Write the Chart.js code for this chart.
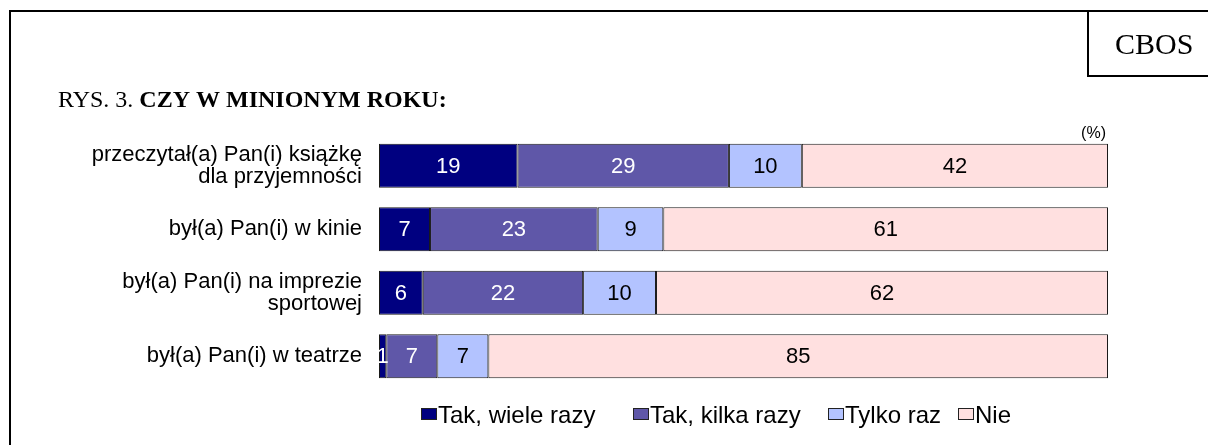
<!DOCTYPE html>
<html><head><meta charset="utf-8">
<script src="https://cdn.jsdelivr.net/npm/chart.js@4.4.1/dist/chart.umd.min.js"></script>
<style>
html,body{margin:0;padding:0;background:#fff;}
canvas{display:block;}
</style></head>
<body>
<canvas id="c" width="1208" height="445"></canvas>
<script>
const categories = [["przeczytał(a) Pan(i) książkę","dla przyjemności"],"był(a) Pan(i) w kinie",["był(a) Pan(i) na imprezie","sportowej"],"był(a) Pan(i) w teatrze"];
const seriesNames = ["Tak, wiele razy","Tak, kilka razy","Tylko raz","Nie"];
const wieleRazy = [19,7,6,1];
const kilkaRazy = [29,23,22,7];
const tylkoRaz = [10,9,10,7];
const nie = [42,61,62,85];
const seriesColors = ["#000080","#5F57A8","#B3C3FF","#FFE0E0"];
const valueColors = ["#ffffff","#ffffff","#000000","#000000"];
const titlePrefix = "RYS. 3. ";
const titleMain = "CZY W MINIONYM ROKU:";
const logoText = "CBOS";
const unitText = "(%)";

const SANS = "'Liberation Sans', Arial, sans-serif";
const SERIF = "'Liberation Serif', 'Times New Roman', serif";

const seriesValues = [wieleRazy,kilkaRazy,tylkoRaz,nie];

const decor = {
  id:'decor',
  beforeDraw(chart){
    const ctx = chart.ctx;
    ctx.save();
    ctx.fillStyle = '#fff';
    ctx.fillRect(0,0,chart.width,chart.height);
    ctx.strokeStyle = '#000';
    ctx.lineWidth = 2;
    ctx.beginPath();
    ctx.moveTo(10,chart.height+5); ctx.lineTo(10,11); ctx.lineTo(chart.width+5,11);
    ctx.moveTo(1088,11); ctx.lineTo(1088,76); ctx.lineTo(chart.width+5,76);
    ctx.stroke();
    ctx.fillStyle = '#000';
    ctx.textBaseline = 'alphabetic';
    ctx.textAlign = 'left';
    ctx.font = '30px ' + SERIF;
    ctx.fillText(logoText, 1115, 54);
    ctx.font = '24px ' + SERIF;
    ctx.fillText(titlePrefix, 58, 107);
    const w = ctx.measureText(titlePrefix).width;
    ctx.font = 'bold 24px ' + SERIF;
    ctx.fillText(titleMain, 58 + w, 107);
    ctx.font = '16px ' + SANS;
    ctx.textAlign = 'right';
    ctx.fillText(unitText, chart.chartArea.right - 2, 138);
    ctx.restore();
  },
  afterDatasetsDraw(chart){
    const ctx = chart.ctx;
    ctx.save();
    ctx.font = '22px ' + SANS;
    ctx.textAlign = 'center';
    ctx.textBaseline = 'middle';
    chart.data.datasets.forEach((ds,di)=>{
      const meta = chart.getDatasetMeta(di);
      meta.data.forEach((el,i)=>{
        const v = ds.data[i];
        ctx.fillStyle = valueColors[di];
        ctx.fillText(String(v), (el.x + el.base)/2, el.y + 1);
      });
    });
    // legend
    const lx = [421, 633, 828, 958];
    ctx.font = '24px ' + SANS;
    ctx.textAlign = 'left';
    ctx.textBaseline = 'alphabetic';
    chart.data.datasets.forEach((ds,di)=>{
      const x = lx[di];
      ctx.fillStyle = ds.backgroundColor;
      ctx.fillRect(x+0.5, 408.5, 15, 11);
      ctx.strokeStyle = '#222';
      ctx.lineWidth = 1;
      ctx.strokeRect(x+0.5, 408.5, 15, 11);
      ctx.fillStyle = '#000';
      ctx.fillText(ds.label, x + 17, 423);
    });
    ctx.restore();
  }
};

new Chart(document.getElementById('c'), {
  type:'bar',
  data:{
    labels: categories,
    datasets: seriesNames.map((n,i)=>({
      label:n,
      data:seriesValues[i],
      backgroundColor:seriesColors[i],
      borderColor:'#1a1a1a',
      borderWidth:1,
      borderSkipped:false,
      categoryPercentage:1,
      barPercentage:0.695
    }))
  },
  options:{
    indexAxis:'y',
    responsive:false,
    animation:false,
    devicePixelRatio:1,
    layout:{padding:{left:0,right:100,top:134,bottom:57}},
    plugins:{legend:{display:false},title:{display:false},tooltip:{enabled:false}},
    scales:{
      x:{stacked:true,min:0,max:100,display:false},
      y:{stacked:true,
        grid:{display:false,drawTicks:false},
        border:{display:false},
        ticks:{color:'#000',padding:17,font:{family:SANS,size:22,lineHeight:1.0}},
        afterFit(s){ s.width = 379; }
      }
    }
  },
  plugins:[decor]
});
</script>
</body></html>
